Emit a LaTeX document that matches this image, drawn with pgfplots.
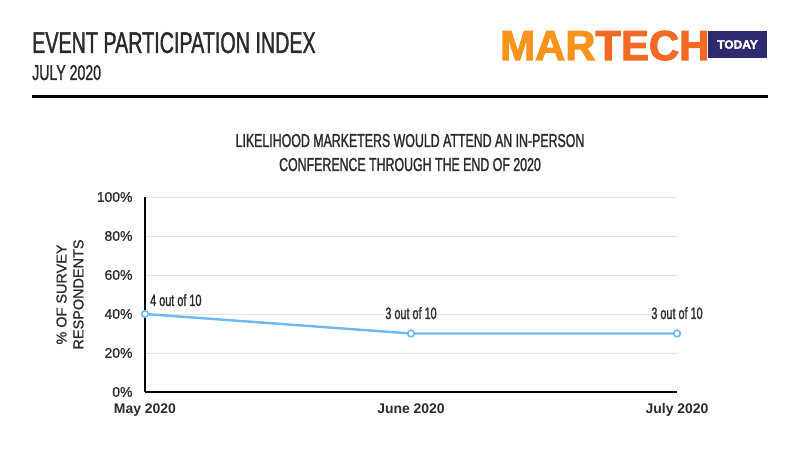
\documentclass[border=0pt]{standalone}
\usepackage{fontspec}
\setmainfont{Liberation Sans}
\newfontfamily\cond[FakeStretch=0.66, FakeBold=1.2]{Liberation Sans}
\newfontfamily\med[FakeBold=0.8]{Liberation Sans}
\newfontfamily\heavy[FakeBold=2.5]{Liberation Sans Bold}
\usepackage{pgfplots}
\pgfplotsset{compat=1.18}
\definecolor{lineblue}{HTML}{6DB8F2}
\definecolor{gridgray}{HTML}{E3E3E3}
\definecolor{txt}{HTML}{2B2B2B}
\definecolor{orangeA}{HTML}{F7941D}
\definecolor{orangeB}{HTML}{F26A23}
\definecolor{navy}{HTML}{2E2A6E}
\begin{document}
\begin{tikzpicture}[x=1bp,y=1bp]
\useasboundingbox (0,0) rectangle (800,450);
\fill[white] (0,0) rectangle (800,450);
% header
\node[anchor=base west, inner sep=0, text=txt] at (32,397) {\cond\fontsize{30}{30}\selectfont EVENT PARTICIPATION INDEX};
\node[anchor=base west, inner sep=0, text=txt] at (32,370) {\cond\fontsize{21.5}{21.5}\selectfont JULY 2020};
\draw[line width=3bp, black] (32,353) -- (768,353);
% logo
\node[anchor=base west, inner sep=0] at (500,390) {\heavy\fontsize{42}{42}\selectfont\textcolor{orangeA}{MAR}\textcolor{orangeB}{TECH}};
\fill[navy] (708,392) rectangle (767,419);
\node[text=white, inner sep=0] at (737.5,405.5) {\heavy\fontsize{12}{12}\selectfont TODAY};
% chart title
\node[anchor=base, inner sep=0, text=txt] at (410,303) {\cond\fontsize{18.8}{18.8}\selectfont LIKELIHOOD MARKETERS WOULD ATTEND AN IN-PERSON};
\node[anchor=base, inner sep=0, text=txt] at (410,279) {\cond\fontsize{18.8}{18.8}\selectfont CONFERENCE THROUGH THE END OF 2020};
\begin{axis}[
  at={(145bp,58bp)}, anchor=origin,
  scale only axis, width=532bp, height=195bp,
  xmin=0, xmax=2, ymin=0, ymax=100,
  axis x line*=bottom, axis y line*=left,
  axis line style={line width=1.6bp, black, -},
  xtick={0,1,2}, xticklabels={May 2020,June 2020,July 2020},
  ytick={0,20,40,60,80,100}, yticklabels={0\%,20\%,40\%,60\%,80\%,100\%},
  major tick length=0pt,
  ymajorgrids, grid style={gridgray, line width=0.8bp},
  yticklabel style={font=\med\fontsize{14}{14}\selectfont, text=txt, xshift=-9bp},
  xticklabel style={font=\fontsize{14}{14}\selectfont\bfseries, text=txt, yshift=-8bp},
  ylabel={\% OF SURVEY\\RESPONDENTS},
  ylabel style={align=center, font=\med\fontsize{14.5}{17}\selectfont, text=txt, at={(axis description cs:-0.141,0.5)}, anchor=center},
  clip=false,
]
\addplot[lineblue, line width=2.4bp, mark=*, mark size=3.3bp, mark options={fill=white, draw=lineblue, line width=1.6bp}]
  coordinates {(0,40) (1,30) (2,30)};
\node[anchor=base west, inner sep=0, text=txt, xshift=5bp, yshift=8bp] at (axis cs:0,40) {\cond\fontsize{16.5}{16.5}\selectfont 4 out of 10};
\node[anchor=base, inner sep=0, text=txt, yshift=14.5bp] at (axis cs:1,30) {\cond\fontsize{16.5}{16.5}\selectfont 3 out of 10};
\node[anchor=base, inner sep=0, text=txt, yshift=14.5bp] at (axis cs:2,30) {\cond\fontsize{16.5}{16.5}\selectfont 3 out of 10};
\end{axis}
\end{tikzpicture}
\end{document}
